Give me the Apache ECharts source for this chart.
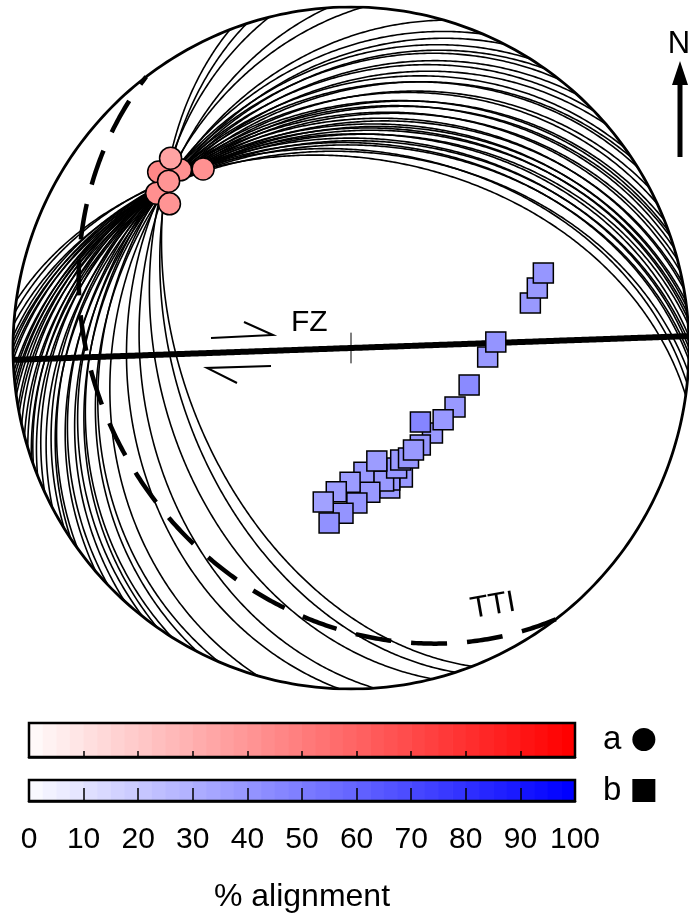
<!DOCTYPE html>
<html>
<head>
<meta charset="utf-8">
<script src="https://cdn.jsdelivr.net/npm/echarts@6/dist/echarts.min.js"></script>
<style>
html,body{margin:0;padding:0;background:#fff;}
#chart{width:689px;height:914px;}
</style>
</head>
<body>
<div id="chart"></div>
<script>
// ---------- DATA ----------
// Great circles (right-hand-rule strike, dip) of the plane family
const planeStrike = [159,162,166,176,182,196,203,207,212,215,218,222,226,229,234,236,238,242,245,248,250,251,253,255,257,259,260,262,263,264,265,266,268,269,270,271,272,274,276,278];
const planeDip    = [48.6,46.5,42.0,37.5,34.0,31.0,29.0,29.5,27.8,28.6,27.5,28.5,27.6,28.8,28.0,29.4,28.5,30.2,29.6,31.4,30.7,32.2,31.5,33.3,32.6,34.7,33.8,35.8,35.0,36.6,35.9,37.5,37.3,39.1,38.4,40.2,39.6,42.0,41.5,43.5];
// Fault zone (FZ) and TTI planes
const fzStrike = 88, fzDip = 90;
const ttiStrike = 142.7, ttiDip = 27.6;
// Series a (circles): trend, plunge, % alignment
const aTrend  = [312.2,316.0,320.2,316.2,308.3,312.2,308.2];
const aPlunge = [24.2,28.2,32.2,23.9,27.6,28.0,32.2];
const aAlign  = [47,43,43,36,44,42,42];
// Series b (squares): trend, plunge, % alignment
const bTrend  = [76.0,72.3,68.9,93.7,87.6,107.3,119.3,136.0,127.7,144.2,136.6,158.1,164.4,163.5,166.1,159.0,155.9,152.2,148.3,172.5,174.0,167.0,177.8,180.4,182.8,185.9,187.2,190.3];
const bPlunge = [44.5,41.7,38.9,56.7,54.7,60.0,61.1,61.6,61.8,61.3,65.6,56.5,54.9,56.8,57.0,59.1,60.5,60.1,61.2,54.9,60.0,62.2,52.5,57.7,49.9,55.1,47.1,52.1];
const bAlign  = [40,40,41,40,42,46,40,40,40,41,48,40,40,41,40,41,40,41,40,40,40,39,41,39,42,39,43,37];
// Colour-bar scale
const scaleMin = 0, scaleMax = 100, scaleInterval = 10;
const tickLabels = ['0','10','20','30','40','50','60','70','80','90','100'];

// ---------- PROJECTION (equal-area, lower hemisphere) ----------
const D2R = Math.PI / 180;
function proj(trend, plunge) {
  const r = Math.SQRT2 * Math.sin((90 - plunge) / 2 * D2R);
  return [r * Math.sin(trend * D2R), r * Math.cos(trend * D2R)];
}
function greatCircle(strike, dip) {
  const pts = [];
  const s = strike * D2R, dd = (strike + 90) * D2R, d = dip * D2R;
  for (let phi = 0; phi <= 180; phi += 0.5) {
    const f = phi * D2R;
    const e = Math.cos(f) * Math.sin(s) + Math.sin(f) * Math.cos(d) * Math.sin(dd);
    const n = Math.cos(f) * Math.cos(s) + Math.sin(f) * Math.cos(d) * Math.cos(dd);
    const dn = Math.sin(f) * Math.sin(d);
    const pl = Math.asin(Math.max(-1, Math.min(1, dn))) / D2R;
    const tr = Math.atan2(e, n) / D2R;
    pts.push(proj(tr, pl));
  }
  return pts;
}
function primitive() {
  const pts = [];
  for (let t = 0; t <= 360; t += 1) pts.push(proj(t, 0));
  return pts;
}

const planeLines = planeStrike.map((s, i) => ({ coords: greatCircle(s, planeDip[i]) }));
const aData = aTrend.map((t, i) => proj(t, aPlunge[i]).concat([aAlign[i]]));
const bData = bTrend.map((t, i) => proj(t, bPlunge[i]).concat([bAlign[i]]));

const steps = 40;
const stepW = (scaleMax - scaleMin) / steps;
const barSteps = [];
for (let i = 0; i < steps; i++) barSteps.push(scaleMin + i * stepW);

function mix(v, rgb) {
  const t = (v - scaleMin) / (scaleMax - scaleMin);
  const c = rgb.map(x => Math.round(255 + (x - 255) * t));
  return 'rgb(' + c.join(',') + ')';
}
function barRenderer(rgb) {
  return function (params, api) {
    const v = api.value(0);
    const p0 = api.coord([v, 0]);
    const p1 = api.coord([v + stepW, 1]);
    return {
      type: 'rect',
      shape: { x: p0[0], y: p1[1], width: p1[0] - p0[0] + 0.6, height: p0[1] - p1[1] },
      style: { fill: mix(v + stepW, rgb) }
    };
  };
}

const FONT = '"Liberation Sans", Arial, Helvetica, sans-serif';
const chart = echarts.init(document.getElementById('chart'), null, { renderer: 'canvas' });

const barAxisBase = {
  min: scaleMin, max: scaleMax, interval: scaleInterval,
  axisLine: { show: true, lineStyle: { color: '#000', width: 2.5 } },
  splitLine: { show: false },
  z: 10
};

chart.setOption({
  animation: false,
  backgroundColor: '#fff',
  grid: [
    { left: 13, top: 7, width: 682, height: 682, show: false },
    { left: 29, top: 723, width: 546, height: 34, show: true, borderColor: '#000', borderWidth: 2.5, backgroundColor: 'transparent', z: 8 },
    { left: 29, top: 780, width: 546, height: 34, show: true, borderColor: '#000', borderWidth: 2.5, backgroundColor: 'transparent', z: 8 }
  ],
  xAxis: [
    { gridIndex: 0, type: 'value', min: -1, max: 1, show: false },
    Object.assign({ gridIndex: 1, type: 'value',
      axisTick: { show: true, inside: true, length: 6, lineStyle: { color: '#000', width: 1.5 } },
      axisLabel: { show: false } }, barAxisBase),
    Object.assign({ gridIndex: 2, type: 'value',
      axisTick: { show: true, inside: true, length: 13, lineStyle: { color: '#000', width: 1.5 } },
      axisLabel: { show: true, color: '#000', fontSize: 30, fontFamily: FONT, margin: 24,
        formatter: function (v) { return tickLabels[Math.round((v - scaleMin) / scaleInterval)]; } },
      name: '% alignment', nameLocation: 'middle', nameGap: 80,
      nameTextStyle: { color: '#000', fontSize: 32, fontFamily: FONT } }, barAxisBase)
  ],
  yAxis: [
    { gridIndex: 0, type: 'value', min: -1, max: 1, show: false },
    { gridIndex: 1, type: 'value', min: 0, max: 1, show: false },
    { gridIndex: 2, type: 'value', min: 0, max: 1, show: false }
  ],
  visualMap: [
    { show: false, type: 'continuous', seriesIndex: 4, dimension: 2, min: scaleMin, max: scaleMax, inRange: { color: ['#ffffff', '#ff0000'] } },
    { show: false, type: 'continuous', seriesIndex: 5, dimension: 2, min: scaleMin, max: scaleMax, inRange: { color: ['#ffffff', '#0000ff'] } }
  ],
  legend: {
    orient: 'vertical', left: 598, top: 718, align: 'right', itemGap: 18,
    itemWidth: 23, itemHeight: 23, selectedMode: false,
    textStyle: { color: '#000', fontSize: 33, fontFamily: FONT, padding: [0, 6, 0, 0] },
    data: [
      { name: 'a', icon: 'circle', itemStyle: { color: '#000', borderWidth: 0 } },
      { name: 'b', icon: 'rect', itemStyle: { color: '#000', borderWidth: 0 } }
    ]
  },
  series: [
    { type: 'lines', coordinateSystem: 'cartesian2d', xAxisIndex: 0, yAxisIndex: 0, polyline: true, silent: true,
      data: planeLines, lineStyle: { color: '#000', width: 1.6, opacity: 1 }, z: 2 },
    { type: 'lines', coordinateSystem: 'cartesian2d', xAxisIndex: 0, yAxisIndex: 0, polyline: true, silent: true,
      data: [{ coords: primitive() }], lineStyle: { color: '#000', width: 2.8, opacity: 1 }, z: 3 },
    { type: 'lines', coordinateSystem: 'cartesian2d', xAxisIndex: 0, yAxisIndex: 0, polyline: true, silent: true,
      data: [{ coords: greatCircle(fzStrike, fzDip) }, { coords: [[0, -0.045], [0, 0.045]], lineStyle: { width: 1 } }],
      lineStyle: { color: '#000', width: 6, opacity: 1 }, z: 3 },
    { type: 'lines', coordinateSystem: 'cartesian2d', xAxisIndex: 0, yAxisIndex: 0, polyline: true, silent: true,
      data: [{ coords: greatCircle(ttiStrike, ttiDip) }],
      lineStyle: { color: '#000', width: 4.5, type: [36, 20], opacity: 1 }, z: 3 },
    { type: 'scatter', name: 'a', xAxisIndex: 0, yAxisIndex: 0, data: aData, symbol: 'circle', symbolSize: 22,
      itemStyle: { borderColor: '#000', borderWidth: 1.5, opacity: 1 }, z: 5 },
    { type: 'scatter', name: 'b', xAxisIndex: 0, yAxisIndex: 0, data: bData, symbol: 'rect', symbolSize: 20,
      itemStyle: { borderColor: '#000', borderWidth: 1.5, opacity: 1 }, z: 6 },
    { type: 'custom', xAxisIndex: 1, yAxisIndex: 1, data: barSteps, renderItem: barRenderer([255, 0, 0]), silent: true, z: 2 },
    { type: 'custom', xAxisIndex: 2, yAxisIndex: 2, data: barSteps, renderItem: barRenderer([0, 0, 255]), silent: true, z: 2 }
  ],
  graphic: [
    { type: 'text', left: 291, top: 308, style: { text: 'FZ', fontSize: 30, fontFamily: FONT, fill: '#000' }, z: 10 },
    { type: 'text', x: 493, y: 606, rotation: 10 * D2R,
      style: { text: 'TTI', fontSize: 30, fontFamily: FONT, fill: '#000', align: 'center', verticalAlign: 'middle' }, z: 10 },
    { type: 'text', x: 679, y: 44, style: { text: 'N', fontSize: 31, fontFamily: FONT, fill: '#000', align: 'center', verticalAlign: 'middle' }, z: 10 },
    { type: 'polygon', shape: { points: [[680, 61], [672, 85], [688, 85]] }, style: { fill: '#000' }, z: 10 },
    { type: 'rect', shape: { x: 677.5, y: 82, width: 5, height: 75 }, style: { fill: '#000' }, z: 10 },
    { type: 'polyline', shape: { points: [[211, 338], [273, 335], [244, 322]] }, style: { stroke: '#000', lineWidth: 2, fill: null }, z: 10 },
    { type: 'polyline', shape: { points: [[271, 366], [207, 368], [237, 383]] }, style: { stroke: '#000', lineWidth: 2, fill: null }, z: 10 }
  ]
});
</script>
</body>
</html>
